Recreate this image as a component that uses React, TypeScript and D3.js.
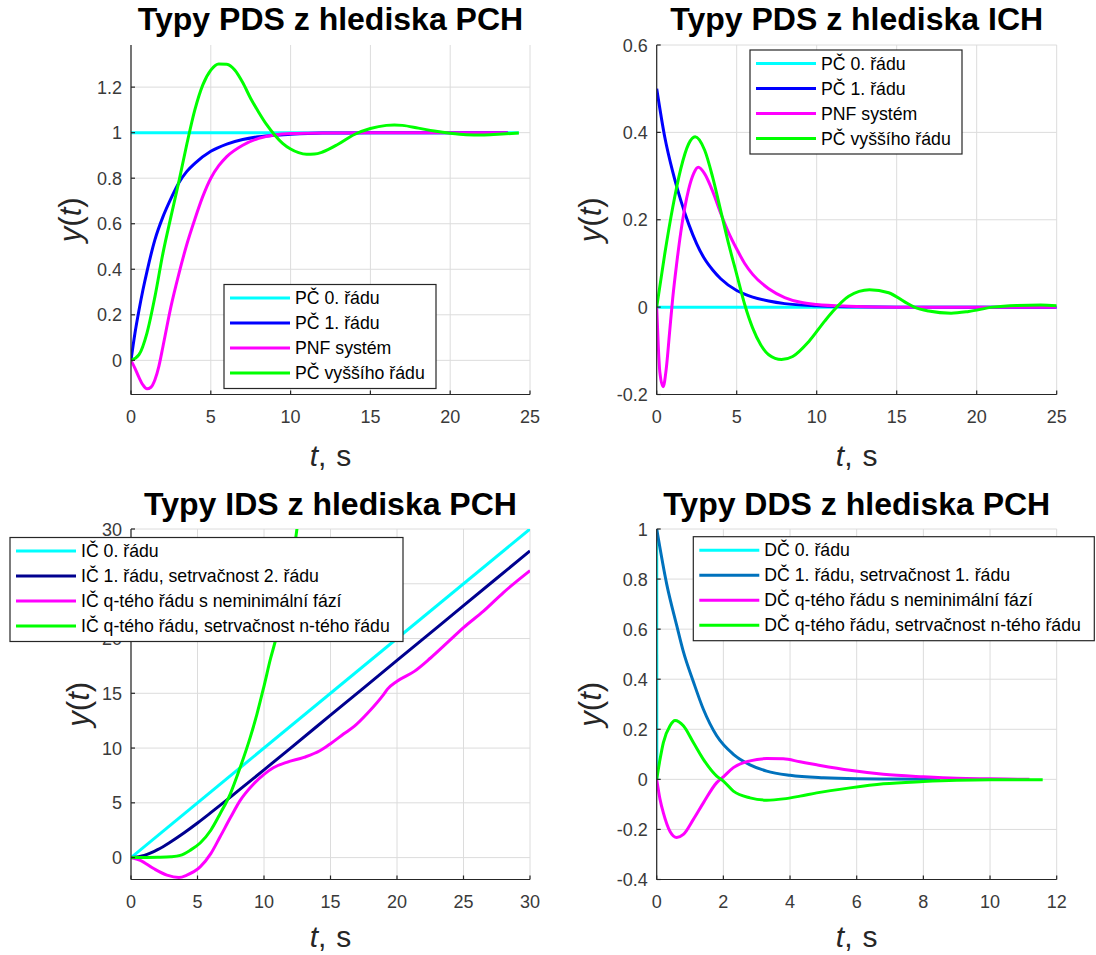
import React from 'react';
import * as d3 from 'd3';

// ---------------- DATA ----------------
// Panel 1: Typy PDS z hlediska PCH (step responses)
const p1CyanT = [0, 24.3];
const p1CyanY = [1, 1];
const p1BlueT = [0, 0.25, 0.5, 0.75, 1, 1.5, 2, 2.5, 3, 3.5, 4, 5, 6, 7, 8, 9, 10, 12, 14, 17, 20, 23.6];
const p1BlueY = [0, 0.12, 0.22, 0.31, 0.39, 0.53, 0.63, 0.71, 0.78, 0.83, 0.865, 0.918, 0.95, 0.97, 0.982, 0.989, 0.993, 0.998, 0.999, 1, 1, 1];
const p1MagT = [0, 0.25, 0.5, 0.75, 1, 1.25, 1.5, 1.75, 2, 2.5, 3, 3.5, 4, 4.5, 5, 5.5, 6, 7, 8, 9, 10, 12, 15, 23.6];
const p1MagY = [0, -0.035, -0.075, -0.108, -0.125, -0.118, -0.085, -0.025, 0.06, 0.235, 0.38, 0.51, 0.62, 0.72, 0.8, 0.855, 0.895, 0.945, 0.975, 0.99, 0.996, 0.999, 1, 1];
const p1GreenT = [0, 0.5, 1, 1.5, 2, 2.5, 3, 3.5, 4, 4.5, 5, 5.5, 6, 6.5, 7, 7.5, 8, 8.5, 9, 9.5, 10, 10.5, 11, 11.5, 12, 13, 14, 15, 16, 16.5, 17, 18, 19, 20, 21, 22, 23, 24.3];
const p1GreenY = [0, 0.025, 0.12, 0.28, 0.47, 0.63, 0.785, 0.95, 1.1, 1.21, 1.275, 1.302, 1.3, 1.275, 1.22, 1.15, 1.09, 1.035, 0.99, 0.953, 0.928, 0.912, 0.905, 0.906, 0.915, 0.95, 0.992, 1.018, 1.032, 1.034, 1.032, 1.02, 1.007, 0.997, 0.991, 0.99, 0.993, 0.998];

// Panel 2: Typy PDS z hlediska ICH (impulse responses)
const p2CyanT = [0, 25];
const p2CyanY = [0, 0];
const p2BlueT = [0, 0.5, 1, 1.5, 2, 2.5, 3, 3.5, 4, 5, 6, 7, 8, 10, 12, 15, 25];
const p2BlueY = [0.5, 0.39, 0.31, 0.245, 0.19, 0.145, 0.11, 0.085, 0.065, 0.038, 0.023, 0.014, 0.008, 0.003, 0.001, 0, 0];
const p2MagT = [0, 0.1, 0.2, 0.4, 0.6, 0.8, 1.0, 1.25, 1.5, 2.0, 2.3, 2.6, 3.0, 3.5, 4.0, 4.5, 5.0, 5.5, 6, 7, 8, 9, 10, 12, 15, 20, 25];
const p2MagY = [0, -0.09, -0.15, -0.182, -0.14, -0.06, 0.02, 0.1, 0.17, 0.27, 0.305, 0.32, 0.305, 0.265, 0.215, 0.17, 0.133, 0.1, 0.075, 0.042, 0.022, 0.011, 0.006, 0.002, 0, 0, 0];
const p2GreenT = [0, 0.5, 1, 1.5, 2, 2.4, 3, 3.5, 4, 4.5, 5, 5.5, 6, 6.5, 7, 7.8, 8.5, 9.5, 10.5, 11, 12, 13.3, 14.5, 15.5, 16.1, 17, 18.4, 19.5, 21, 22.5, 24, 25];
const p2GreenY = [0, 0.121, 0.228, 0.316, 0.374, 0.39, 0.359, 0.297, 0.221, 0.144, 0.075, 0.006, -0.048, -0.086, -0.109, -0.12, -0.113, -0.079, -0.032, -0.01, 0.025, 0.04, 0.033, 0.012, 0, -0.009, -0.014, -0.01, 0, 0.004, 0.005, 0.003];

// Panel 3: Typy IDS z hlediska PCH
const p3CyanT = [0, 30];
const p3CyanY = [0, 30];
const p3NavyT = [0, 1, 2, 3, 4, 5, 6, 7, 8, 10, 12, 15, 20, 25, 30];
const p3NavyY = [0, 0.2, 0.72, 1.45, 2.27, 3.16, 4.1, 5.06, 6.04, 8.01, 10.0, 13.0, 18.0, 23.0, 28.0];
const p3MagT = [0, 0.7, 1.7, 2.7, 3.6, 4.2, 5.2, 6.0, 6.7, 7.5, 8.2, 9.2, 10, 10.7, 11.7, 13, 14.2, 15, 16, 16.8, 17.8, 19, 19.3, 20, 21.3, 22.5, 23.9, 25, 26.5, 28, 30];
const p3MagY = [0, -0.25, -1.0, -1.6, -1.82, -1.6, -0.85, 0.36, 1.9, 3.7, 5.2, 6.7, 7.6, 8.2, 8.7, 9.15, 9.75, 10.4, 11.3, 12.0, 13.2, 14.9, 15.4, 16.1, 17.0, 18.2, 19.76, 21.0, 22.5, 24.2, 26.2];
const p3GreenT = [0, 1, 2, 3, 3.7, 4.45, 5.2, 6.0, 6.7, 7.46, 8.2, 8.97, 9.47, 9.97, 10.5, 10.85, 11.5, 12.07, 12.5, 13];
const p3GreenY = [0, 0.01, 0.03, 0.08, 0.2, 0.67, 1.33, 2.5, 4.0, 5.8, 8.2, 11.0, 13.1, 15.5, 18.2, 19.76, 23, 26.3, 30.2, 34];

// Panel 4: Typy DDS z hlediska PCH
const p4CyanT = [0, 0.005];
const p4CyanY = [1, 0];
const p4BlueT = [0, 0.3, 0.6, 0.8, 1.1, 1.4, 1.8, 2.3, 2.8, 3.3, 4, 5, 6, 7, 8.5];
const p4BlueY = [1, 0.78, 0.615, 0.51, 0.39, 0.28, 0.174, 0.1, 0.058, 0.033, 0.016, 0.006, 0.002, 0.001, 0];
const p4MagT = [0, 0.1, 0.2, 0.4, 0.6, 0.8, 1.1, 1.4, 1.8, 2.0, 2.3, 2.8, 3.3, 3.8, 4.3, 4.8, 5.8, 6.8, 8, 9, 10, 11.18];
const p4MagY = [0, -0.08, -0.134, -0.208, -0.232, -0.22, -0.16, -0.094, -0.013, 0.01, 0.047, 0.074, 0.083, 0.082, 0.07, 0.058, 0.036, 0.02, 0.01, 0.004, 0.002, 0];
const p4GreenT = [0, 0.1, 0.2, 0.4, 0.55, 0.8, 1.1, 1.4, 1.8, 2.0, 2.3, 2.8, 3.3, 3.8, 4.3, 4.8, 5.8, 6.8, 8, 9, 10, 11.58];
const p4GreenY = [0, 0.08, 0.147, 0.214, 0.235, 0.214, 0.147, 0.08, 0.013, -0.007, -0.047, -0.074, -0.083, -0.078, -0.067, -0.054, -0.034, -0.018, -0.009, -0.004, -0.002, -0.002];

// Ticks
const p1XTicks = [0, 5, 10, 15, 20, 25];
const p1YTicks = [0, 0.2, 0.4, 0.6, 0.8, 1, 1.2];
const p2XTicks = [0, 5, 10, 15, 20, 25];
const p2YTicks = [-0.2, 0, 0.2, 0.4, 0.6];
const p3XTicks = [0, 5, 10, 15, 20, 25, 30];
const p3YTicks = [0, 5, 10, 15, 20, 25, 30];
const p4XTicks = [0, 2, 4, 6, 8, 10, 12];
const p4YTicks = [-0.4, -0.2, 0, 0.2, 0.4, 0.6, 0.8, 1];

// Titles & legends
const p1Title = 'Typy PDS z hlediska PCH';
const p2Title = 'Typy PDS z hlediska ICH';
const p3Title = 'Typy IDS z hlediska PCH';
const p4Title = 'Typy DDS z hlediska PCH';
const pdsLabels = ['PČ 0. řádu', 'PČ 1. řádu', 'PNF systém', 'PČ vyššího řádu'];
const idsLabels = ['IČ 0. řádu', 'IČ 1. řádu, setrvačnost 2. řádu', 'IČ q-tého řádu s neminimální fází', 'IČ q-tého řádu, setrvačnost n-tého řádu'];
const ddsLabels = ['DČ 0. řádu', 'DČ 1. řádu, setrvačnost 1. řádu', 'DČ q-tého řádu s neminimální fází', 'DČ q-tého řádu, setrvačnost n-tého řádu'];

const pdsColors = ['#00ffff', '#0000ff', '#ff00ff', '#00ff00'];
const idsColors = ['#00ffff', '#00008f', '#ff00ff', '#00ff00'];
const ddsColors = ['#00ffff', '#0072bd', '#ff00ff', '#00ff00'];

// ---------------- RENDERING ----------------
const FONT = '"Liberation Sans", Arial, Helvetica, sans-serif';
const AXC = '#262626';

type Series = { t: number[]; y: number[]; color: string };
type PanelProps = {
  id: string;
  box: { left: number; right: number; top: number; bottom: number };
  xDomain: [number, number];
  yDomain: [number, number];
  xTicks: number[];
  yTicks: number[];
  series: Series[];
  title: string;
  titleY: number;
  xLabelY: number;
  yLabelX: number;
  legend: { left: number; top: number; width: number; labels: string[] };
};

const fmt = (v: number) => String(+v.toFixed(2));

function Panel(p: PanelProps) {
  const { box } = p;
  const xs = d3.scaleLinear().domain(p.xDomain).range([box.left, box.right]);
  const ys = d3.scaleLinear().domain(p.yDomain).range([box.bottom, box.top]);
  const line = d3
    .line<[number, number]>()
    .x((d) => xs(d[0]))
    .y((d) => ys(d[1]))
    .curve(d3.curveMonotoneX);
  const cx = (box.left + box.right) / 2;
  const cy = (box.top + box.bottom) / 2;
  const lg = p.legend;
  const rowH = 25;
  const lgH = 13.5 + rowH * 3 + 15.5;
  return (
    <g>
      <defs>
        <clipPath id={`clip-${p.id}`}>
          <rect x={box.left} y={box.top} width={box.right - box.left} height={box.bottom - box.top} />
        </clipPath>
      </defs>
      {/* grid */}
      <g stroke="#dcdcdc" strokeWidth={1}>
        {p.xTicks.map((t) => (
          <line key={'gx' + t} x1={xs(t)} x2={xs(t)} y1={box.top} y2={box.bottom} />
        ))}
        {p.yTicks.map((t) => (
          <line key={'gy' + t} x1={box.left} x2={box.right} y1={ys(t)} y2={ys(t)} />
        ))}
      </g>
      {/* series */}
      <g clipPath={`url(#clip-${p.id})`} fill="none" strokeWidth={3} strokeLinejoin="round">
        {p.series.map((s, i) => (
          <path key={i} d={line(s.t.map((t, j) => [t, s.y[j]] as [number, number])) || ''} stroke={s.color} />
        ))}
      </g>
      {/* axes */}
      <g stroke={AXC} strokeWidth={1.2}>
        <line x1={box.left} x2={box.left} y1={box.top} y2={box.bottom} />
        <line x1={box.left} x2={box.right} y1={box.bottom} y2={box.bottom} />
        {p.xTicks.map((t) => (
          <line key={'tx' + t} x1={xs(t)} x2={xs(t)} y1={box.bottom} y2={box.bottom - 4} />
        ))}
        {p.yTicks.map((t) => (
          <line key={'ty' + t} x1={box.left} x2={box.left + 4} y1={ys(t)} y2={ys(t)} />
        ))}
      </g>
      <g fontFamily={FONT} fontSize={18} fill="#3a3a3a">
        {p.xTicks.map((t) => (
          <text key={'lx' + t} x={xs(t)} y={box.bottom + 28} textAnchor="middle">
            {fmt(t)}
          </text>
        ))}
        {p.yTicks.map((t) => (
          <text key={'ly' + t} x={box.left - 9} y={ys(t) + 6.5} textAnchor="end">
            {fmt(t)}
          </text>
        ))}
      </g>
      {/* title */}
      <text x={cx} y={p.titleY} textAnchor="middle" fontFamily={FONT} fontWeight="bold" fontSize={32} fill="#000">
        {p.title}
      </text>
      {/* x label */}
      <text x={cx} y={p.xLabelY} textAnchor="middle" fontFamily={FONT} fontSize={30} fill="#262626">
        <tspan fontStyle="italic">t</tspan>
        <tspan>,</tspan>
        <tspan dx={10}>s</tspan>
      </text>
      {/* y label */}
      <text
        transform={`translate(${p.yLabelX},${cy}) rotate(-90)`}
        textAnchor="middle"
        fontFamily={FONT}
        fontSize={31}
        fill="#262626"
      >
        <tspan fontStyle="italic">y</tspan>
        <tspan>(</tspan>
        <tspan fontStyle="italic">t</tspan>
        <tspan>)</tspan>
      </text>
      {/* legend */}
      <g>
        <rect x={lg.left} y={lg.top} width={lg.width} height={lgH} fill="#fff" stroke={AXC} strokeWidth={1.2} />
        {lg.labels.map((lab, i) => {
          const yy = lg.top + 13.5 + i * rowH;
          return (
            <g key={lab}>
              <line x1={lg.left + 6} x2={lg.left + 66} y1={yy} y2={yy} stroke={p.series[i].color} strokeWidth={3} />
              <text x={lg.left + 71} y={yy + 6} fontFamily={FONT} fontSize={17.7} fill="#000">
                {lab}
              </text>
            </g>
          );
        })}
      </g>
    </g>
  );
}

const mk = (ts: number[][], yv: number[][], colors: string[]): Series[] =>
  ts.map((t, i) => ({ t, y: yv[i], color: colors[i] }));

export default function App() {
  const row1 = { top: 45, bottom: 394.5 };
  const row2 = { top: 529, bottom: 879.5 };
  const col1 = { left: 131, right: 530 };
  const col2 = { left: 656.7, right: 1056.7 };
  return (
    <svg width={1096} height={955} style={{ position: 'absolute', left: 0, top: 0, background: '#fff' }}>
      <Panel
        id="p1"
        box={{ ...col1, ...row1 }}
        xDomain={[0, 25]}
        yDomain={[-0.15, 1.385]}
        xTicks={p1XTicks}
        yTicks={p1YTicks}
        series={mk([p1CyanT, p1BlueT, p1MagT, p1GreenT], [p1CyanY, p1BlueY, p1MagY, p1GreenY], pdsColors)}
        title={p1Title}
        titleY={30}
        xLabelY={466}
        yLabelX={81}
        legend={{ left: 224, top: 284.5, width: 212, labels: pdsLabels }}
      />
      <Panel
        id="p2"
        box={{ ...col2, ...row1 }}
        xDomain={[0, 25]}
        yDomain={[-0.2, 0.6]}
        xTicks={p2XTicks}
        yTicks={p2YTicks}
        series={mk([p2CyanT, p2BlueT, p2MagT, p2GreenT], [p2CyanY, p2BlueY, p2MagY, p2GreenY], pdsColors)}
        title={p2Title}
        titleY={30}
        xLabelY={466}
        yLabelX={601}
        legend={{ left: 750, top: 50, width: 212, labels: pdsLabels }}
      />
      <Panel
        id="p3"
        box={{ ...col1, ...row2 }}
        xDomain={[0, 30]}
        yDomain={[-2, 30]}
        xTicks={p3XTicks}
        yTicks={p3YTicks}
        series={mk([p3CyanT, p3NavyT, p3MagT, p3GreenT], [p3CyanY, p3NavyY, p3MagY, p3GreenY], idsColors)}
        title={p3Title}
        titleY={514.5}
        xLabelY={947}
        yLabelX={89}
        legend={{ left: 10, top: 537.5, width: 393, labels: idsLabels }}
      />
      <Panel
        id="p4"
        box={{ ...col2, ...row2 }}
        xDomain={[0, 12]}
        yDomain={[-0.4, 1]}
        xTicks={p4XTicks}
        yTicks={p4YTicks}
        series={mk([p4CyanT, p4BlueT, p4MagT, p4GreenT], [p4CyanY, p4BlueY, p4MagY, p4GreenY], ddsColors)}
        title={p4Title}
        titleY={514.5}
        xLabelY={947}
        yLabelX={601}
        legend={{ left: 693.3, top: 536.7, width: 401, labels: ddsLabels }}
      />
    </svg>
  );
}
